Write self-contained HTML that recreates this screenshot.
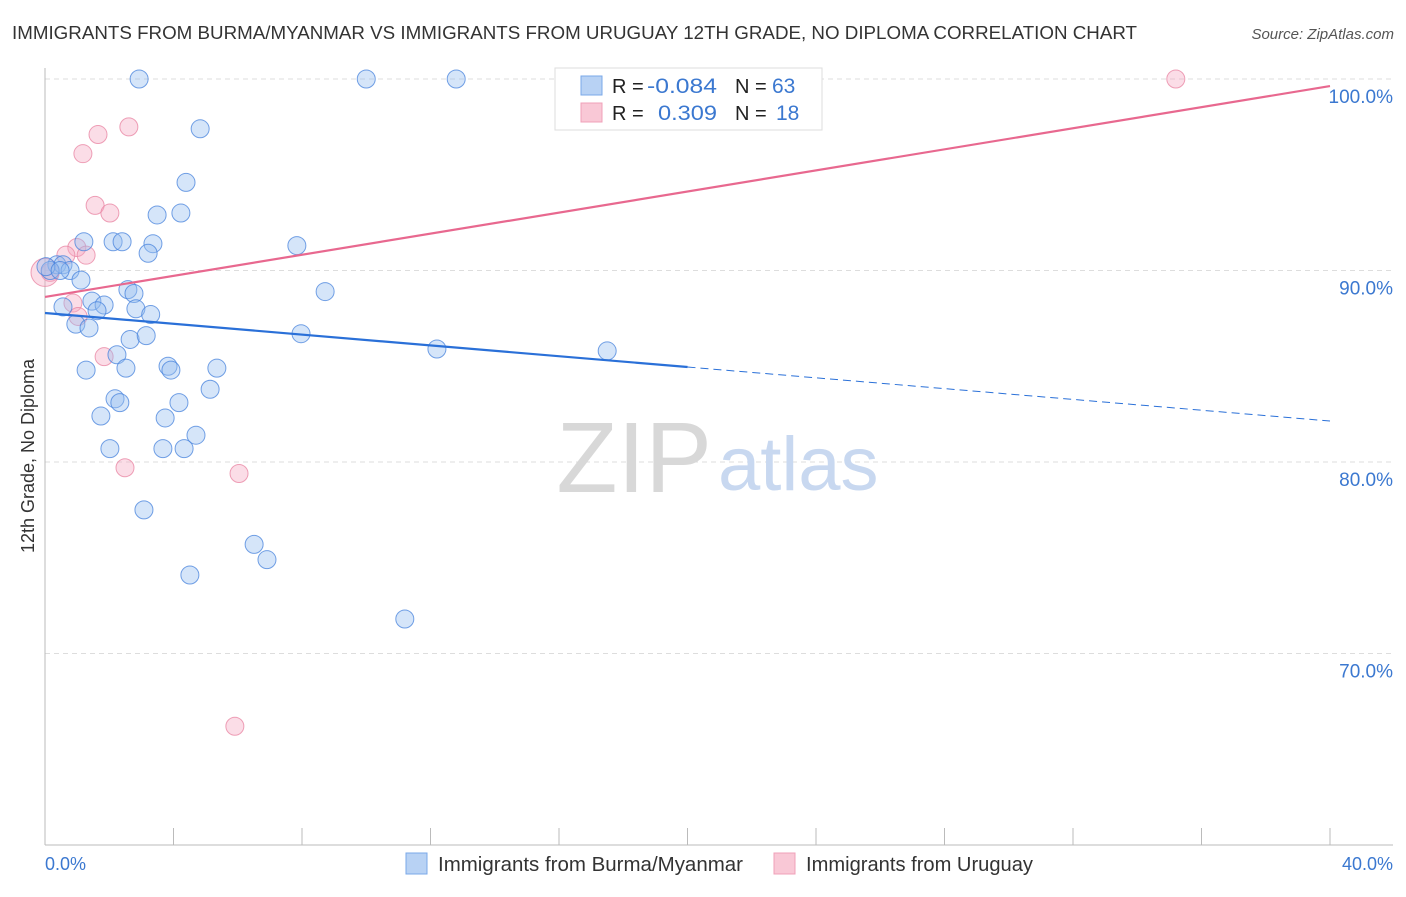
<!DOCTYPE html>
<html><head><meta charset="utf-8"><style>
body{margin:0;background:#fff;font-family:"Liberation Sans",sans-serif;}
svg text{font-family:"Liberation Sans",sans-serif;}
</style></head><body>
<svg id="chart" width="1406" height="892" xmlns="http://www.w3.org/2000/svg">
<text x="12" y="39" font-size="18" fill="#333" textLength="1125" lengthAdjust="spacingAndGlyphs">IMMIGRANTS FROM BURMA/MYANMAR VS IMMIGRANTS FROM URUGUAY 12TH GRADE, NO DIPLOMA CORRELATION CHART</text>
<text x="1394" y="39" font-size="15" fill="#555" font-style="italic" text-anchor="end">Source: ZipAtlas.com</text>
<g id="grid"></g>
<text x="712" y="492" font-size="100" fill="#d8d8d8" font-family="Liberation Serif" text-anchor="end">ZIP</text>
<text x="718" y="490" font-size="76" fill="#c8d8f0">atlas</text>
<line x1="45" y1="68" x2="45" y2="845" stroke="#bbb"/>
<line x1="45" y1="845" x2="1393" y2="845" stroke="#bbb"/>
<g id="xticks"></g>
<g id="ylabels"></g>
<text x="45" y="870" font-size="18" fill="#3b78d0">0.0%</text>
<text x="1393" y="870" font-size="18" fill="#3b78d0" text-anchor="end">40.0%</text>
<text transform="translate(34,456) rotate(-90)" font-size="18" fill="#333" text-anchor="middle">12th Grade, No Diploma</text>
<g id="points"></g>
<g id="trends"></g>
<g>
<rect x="555" y="68" width="267" height="62" fill="#fff" stroke="#ddd"/>
<rect x="581" y="76" width="21" height="19" fill="#b8d2f4" stroke="#7aa8e8"/>
<rect x="581" y="103" width="21" height="19" fill="#f9c8d6" stroke="#f0a0b8"/>
<text x="612" y="93" font-size="20" fill="#222">R = </text>
<text x="647" y="93" font-size="21" fill="#3b78d0" textLength="70" lengthAdjust="spacingAndGlyphs">-0.084</text>
<text x="735" y="93" font-size="20" fill="#222">N = </text>
<text x="772" y="93" font-size="21" fill="#3b78d0">63</text>
<text x="612" y="120" font-size="20" fill="#222">R = </text>
<text x="658" y="120" font-size="21" fill="#3b78d0" textLength="59" lengthAdjust="spacingAndGlyphs">0.309</text>
<text x="735" y="120" font-size="20" fill="#222">N = </text>
<text x="776" y="120" font-size="21" fill="#3b78d0">18</text>
</g>
<g>
<rect x="406" y="853" width="21" height="21" fill="#b8d2f4" stroke="#7aa8e8"/>
<text x="438" y="871" font-size="20" fill="#333" textLength="305" lengthAdjust="spacingAndGlyphs">Immigrants from Burma/Myanmar</text>
<rect x="774" y="853" width="21" height="21" fill="#f9c8d6" stroke="#f0a0b8"/>
<text x="806" y="871" font-size="20" fill="#333" textLength="227" lengthAdjust="spacingAndGlyphs">Immigrants from Uruguay</text>
</g>
</svg>
<script>
const blueX=[2.93,10.0,12.8,4.83,4.39,3.49,4.23,1.21,2.12,2.40,3.36,3.21,7.84,0.37,0.56,0.16,0.78,1.12,8.72,2.58,2.77,1.46,0.56,1.84,1.62,2.83,3.29,0.96,1.37,7.97,2.65,3.15,2.24,12.2,17.5,1.28,2.52,3.83,3.92,5.35,5.14,2.18,2.33,4.17,1.74,3.74,4.70,2.02,3.67,4.33,3.08,6.51,6.91,4.51,11.2,0.03,0.47];
const blueY=[100,100,100,97.4,94.6,92.9,93.0,91.5,91.5,91.5,91.4,90.9,91.3,90.3,90.3,90.0,90.0,89.5,88.9,89.0,88.8,88.4,88.1,88.2,87.9,88.0,87.7,87.2,87.0,86.7,86.4,86.6,85.6,85.9,85.8,84.8,84.9,85.0,84.8,84.9,83.8,83.3,83.1,83.1,82.4,82.3,81.4,80.7,80.7,80.7,77.5,75.7,74.9,74.1,71.8,90.2,90.0];
const pinkX=[23.6,35.2,1.65,2.61,1.18,1.56,2.02,0.99,0.65,1.28,0.16,0.0,0.87,1.84,2.49,6.04,5.91,1.03];
const pinkY=[100,100,97.1,97.5,96.1,93.4,93.0,91.2,90.8,90.8,89.9,89.9,88.3,85.5,79.7,79.4,66.2,87.6];
const yTicks=[100,90,80,70];
const yTickLabels=["100.0%","90.0%","80.0%","70.0%"];
const blueTrend=[87.78,82.14], pinkTrend=[88.62,99.63], blueSolidEnd=20;
const X=v=>45+v/40*1285, Y=v=>79+(100-v)*19.15;
const NS="http://www.w3.org/2000/svg";
function mk(tag,attrs,parent){const e=document.createElementNS(NS,tag);for(const k in attrs)e.setAttribute(k,attrs[k]);parent.appendChild(e);return e;}
const grid=document.getElementById('grid'),yl=document.getElementById('ylabels');
yTicks.forEach((t,i)=>{
 const l=mk('line',{x1:45,x2:1393,y1:Y(t),y2:Y(t),stroke:'#ddd','stroke-dasharray':'5,4'},grid);
 
 
 const tx=mk('text',{x:1393,y:Y(t)+24,'font-size':19,fill:'#3b78d0','text-anchor':'end'},yl);
 tx.textContent=yTickLabels[i];
 
 
});
const xt=document.getElementById('xticks');
for(let i=0;i<=10;i++){const l=mk('line',{x1:X(i*4),x2:X(i*4),y1:828,y2:845,stroke:'#bbb'},xt);
 
 }
const pts=document.getElementById('points');
pinkX.forEach((x,i)=>{const c=mk('circle',{cx:X(x),cy:Y(pinkY[i]),r:i==11?14:9,fill:'rgba(245,170,195,0.4)',stroke:'rgba(232,130,160,0.75)','stroke-width':1},pts);
 
 });
blueX.forEach((x,i)=>{const c=mk('circle',{cx:X(x),cy:Y(blueY[i]),r:9,fill:'rgba(150,190,240,0.4)',stroke:'rgba(70,130,220,0.75)','stroke-width':1},pts);
 
 });
const tr=document.getElementById('trends');
const by=x=>blueTrend[0]+(blueTrend[1]-blueTrend[0])*x/40;
let l1=mk('line',{x1:X(0),y1:Y(pinkTrend[0]),x2:X(40),y2:Y(pinkTrend[1]),stroke:'#e8688f','stroke-width':2.2},tr);


let l2=mk('line',{x1:X(0),y1:Y(by(0)),x2:X(blueSolidEnd),y2:Y(by(blueSolidEnd)),stroke:'#2a70d8','stroke-width':2.2},tr);


let l3=mk('line',{x1:X(blueSolidEnd),y1:Y(by(blueSolidEnd)),x2:X(40),y2:Y(by(40)),stroke:'#2a70d8','stroke-width':1,'stroke-dasharray':'8,5'},tr);


</script>
</body></html>
